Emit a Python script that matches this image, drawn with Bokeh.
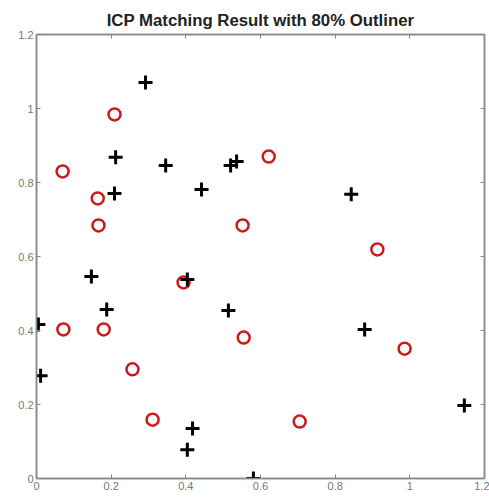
from bokeh.plotting import figure
from bokeh.models import Range1d, FixedTicker, LinearAxis, CustomJSTickFormatter
from bokeh.embed import file_html
from bokeh.resources import INLINE

title = "ICP Matching Result with 80% Outliner"
ticks = [0, 0.2, 0.4, 0.6, 0.8, 1.0, 1.2]

cross_x = [0.292, 0.212, 0.346, 0.520, 0.536, 0.209, 0.442, 0.843, 0.147, 0.404,
           0.188, 0.514, 0.005, 0.879, 0.011, 0.418, 0.404, 0.581, 1.146]
cross_y = [1.070, 0.868, 0.846, 0.846, 0.857, 0.770, 0.781, 0.768, 0.546, 0.538,
           0.457, 0.454, 0.416, 0.403, 0.278, 0.135, 0.078, 0.000, 0.197]

circle_x = [0.209, 0.070, 0.164, 0.166, 0.622, 0.552, 0.913, 0.394, 0.072, 0.180,
            0.555, 0.257, 0.311, 0.705, 0.986]
circle_y = [0.984, 0.830, 0.757, 0.684, 0.870, 0.684, 0.619, 0.530, 0.403, 0.403,
            0.381, 0.295, 0.159, 0.154, 0.351]

p = figure(width=489, height=498, output_backend="svg", toolbar_location=None,
           x_range=Range1d(0, 1.2), y_range=Range1d(0, 1.2),
           min_border_left=36, min_border_right=5, min_border_top=34, min_border_bottom=20)

p.title.text = title
p.title.align = "center"
p.title.text_font = "Liberation Sans"
p.title.text_font_size = "16.8px"
p.title.text_font_style = "bold"
p.title.text_color = "#222222"
p.title.offset = 0

p.xgrid.visible = False
p.ygrid.visible = False
p.outline_line_color = "#888888"
p.outline_line_width = 1.5

fmt = CustomJSTickFormatter(code="return tick.toFixed(1).replace(/\\.0$/, '');")

def style(ax, labels=True):
    ax.ticker = FixedTicker(ticks=ticks)
    ax.formatter = fmt
    ax.axis_line_color = "#888888"
    ax.axis_line_width = 1.5
    ax.major_tick_line_color = "#888888"
    ax.major_tick_in = 4
    ax.major_tick_out = 0
    ax.minor_tick_line_color = None
    ax.major_label_text_font = "Liberation Sans"
    ax.major_label_text_font_size = "11px"
    ax.major_label_text_color = "#777777"
    ax.major_label_standoff = 3
    if not labels:
        ax.major_label_text_color = None

style(p.xaxis[0])
style(p.yaxis[0])
top = LinearAxis()
right = LinearAxis()
style(top, False)
style(right, False)
top.major_label_text_font_size = "0px"
right.major_label_text_font_size = "0px"
top.major_label_standoff = 0
right.major_label_standoff = 0
p.add_layout(top, "above")
p.add_layout(right, "right")

p.scatter(circle_x, circle_y, marker="circle", size=12, fill_color=None,
          line_color="#cc1a1a", line_width=2.5)
p.scatter(cross_x, cross_y, marker="cross", size=14, line_color="black", line_width=3)

open("out.html", "w").write(file_html(p, INLINE))
